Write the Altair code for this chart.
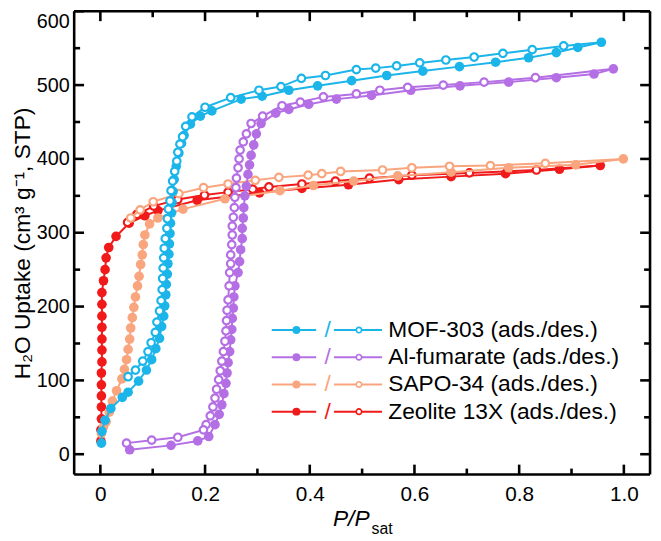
import altair as alt
import pandas as pd

FONT = "Liberation Sans"

# ---------------- data ----------------
legend_names = ["MOF-303", "Al-fumarate", "SAPO-34", "Zeolite 13X"]
legend_colors = ["#1BB5EA", "#B56FE5", "#F9A57E", "#F01A1A"]
legend_labels = ["MOF-303 (ads./des.)", "Al-fumarate (ads./des.)",
                 "SAPO-34 (ads./des.)", "Zeolite 13X (ads./des.)"]

mof_ads_p = [0.002, 0.003, 0.009, 0.020, 0.042, 0.053, 0.073, 0.088, 0.098, 0.106,
             0.113, 0.117, 0.121, 0.123, 0.125, 0.126, 0.128, 0.129, 0.131, 0.132,
             0.133, 0.134, 0.136, 0.137, 0.139, 0.141, 0.145, 0.150, 0.155, 0.160,
             0.172, 0.191, 0.213, 0.269, 0.309, 0.360, 0.415, 0.480, 0.547, 0.616,
             0.686, 0.755, 0.818, 0.871, 0.912, 0.957]
mof_ads_u = [15, 31, 46, 62, 77, 84, 99, 114, 128, 143,
             157, 173, 187, 201, 216, 230, 244, 258, 271, 285,
             299, 313, 327, 341, 356, 372, 390, 408, 421, 432,
             447, 458, 465, 481, 485, 493, 499, 506, 513, 519,
             525, 531, 537, 544, 551, 558]
mof_des_p = [0.957, 0.885, 0.825, 0.769, 0.714, 0.660, 0.610, 0.566, 0.526, 0.489,
             0.430, 0.384, 0.345, 0.303, 0.249, 0.200, 0.175, 0.163, 0.157, 0.152,
             0.148, 0.146, 0.142, 0.138, 0.135, 0.133, 0.130, 0.128, 0.127, 0.124,
             0.122, 0.121, 0.120, 0.119, 0.118, 0.116, 0.113, 0.108, 0.105, 0.097,
             0.091, 0.081, 0.067, 0.053]
mof_des_u = [558, 553, 548, 543, 538, 534, 530, 526, 523, 521,
             513, 509, 498, 493, 483, 470, 457, 444, 430, 420,
             409, 397, 383, 370, 357, 343, 332, 319, 306, 292,
             279, 266, 252, 238, 223, 208, 194, 179, 165, 151,
             139, 126, 114, 105]

alf_ads_p = [0.056, 0.135, 0.186, 0.207, 0.219, 0.227, 0.232, 0.236, 0.240, 0.242,
             0.244, 0.247, 0.249, 0.251, 0.252, 0.254, 0.255, 0.257, 0.263, 0.266,
             0.268, 0.271, 0.271, 0.273, 0.274, 0.276, 0.279, 0.282, 0.285, 0.288,
             0.293, 0.298, 0.307, 0.335, 0.360, 0.398, 0.451, 0.518, 0.593, 0.687,
             0.780, 0.871, 0.943, 0.980]
alf_ads_u = [6, 12, 18, 24, 40, 54, 67, 82, 96, 110,
             124, 139, 155, 169, 184, 198, 213, 228, 246, 261,
             277, 292, 306, 320, 334, 350, 363, 379, 392, 405,
             419, 434, 448, 462, 467, 474, 481, 486, 493, 499,
             504, 510, 515, 522]
alf_des_p = [0.980, 0.831, 0.733, 0.655, 0.587, 0.534, 0.489, 0.426, 0.382, 0.347,
             0.310, 0.288, 0.279, 0.273, 0.267, 0.265, 0.263, 0.260, 0.259, 0.257,
             0.256, 0.254, 0.252, 0.252, 0.251, 0.249, 0.249, 0.247, 0.246, 0.244,
             0.242, 0.241, 0.240, 0.238, 0.235, 0.232, 0.229, 0.226, 0.222, 0.219,
             0.215, 0.210, 0.202, 0.197, 0.148, 0.098, 0.050]
alf_des_u = [522, 510, 504, 500, 497, 493, 488, 484, 477, 472,
             458, 448, 434, 423, 412, 400, 388, 374, 361, 348,
             334, 321, 309, 297, 284, 270, 258, 246, 228, 209,
             195, 181, 167, 153, 139, 126, 113, 101, 88, 76,
             64, 52, 40, 33, 23, 19, 15]

sapo_ads_p = [0.002, 0.006, 0.011, 0.017, 0.023, 0.031, 0.041, 0.046, 0.050, 0.053,
              0.056, 0.058, 0.061, 0.064, 0.067, 0.071, 0.074, 0.077, 0.080, 0.082,
              0.085, 0.094, 0.110, 0.158, 0.238, 0.343, 0.407, 0.484, 0.568, 0.670,
              0.780, 0.908, 0.999]
sapo_ads_u = [28, 37, 44, 57, 72, 86, 102, 115, 128, 142,
              156, 171, 185, 199, 213, 228, 241, 257, 270, 284,
              297, 312, 320, 332, 346, 357, 364, 370, 377, 382,
              388, 392, 400]
sapo_des_p = [0.999, 0.850, 0.745, 0.667, 0.595, 0.539, 0.459, 0.423, 0.397, 0.341,
              0.296, 0.244, 0.197, 0.150, 0.101, 0.076, 0.058]
sapo_des_u = [400, 394, 391, 390, 388, 385, 383, 380, 378, 375,
              371, 366, 361, 353, 342, 331, 320]

zeo_ads_p = [0.001, 0.001, 0.002, 0.002, 0.002, 0.002, 0.002, 0.003, 0.003, 0.003,
             0.003, 0.003, 0.003, 0.003, 0.006, 0.009, 0.011, 0.016, 0.030, 0.055,
             0.085, 0.110, 0.185, 0.304, 0.385, 0.474, 0.570, 0.670, 0.774, 0.877,
             0.955]
zeo_ads_u = [18, 33, 48, 64, 79, 94, 110, 125, 141, 156,
             172, 187, 203, 219, 235, 250, 266, 280, 295, 313,
             323, 330, 344, 354, 360, 365, 372, 376, 380, 386,
             391]
zeo_des_p = [0.955, 0.833, 0.705, 0.595, 0.514, 0.449, 0.385, 0.322, 0.291, 0.244,
             0.199, 0.148, 0.102, 0.070, 0.052]
zeo_des_u = [391, 385, 381, 378, 374, 370, 366, 362, 359, 355,
             351, 345, 336, 325, 314]

x_major = [0, 0.2, 0.4, 0.6, 0.8, 1.0]
x_minor = [0.1, 0.3, 0.5, 0.7, 0.9]
y_major = [0, 100, 200, 300, 400, 500, 600]
y_minor = [50, 150, 250, 350, 450, 550]

# ---------------- chart ----------------
W, H = 583, 469
xs = alt.Scale(domain=[-0.05, 1.05], nice=False, zero=False)
ys = alt.Scale(domain=[-27.5, 600], nice=False, zero=False)
color_of = dict(zip(legend_names, legend_colors))

series = [
    ("Zeolite 13X", zeo_ads_p, zeo_ads_u, zeo_des_p, zeo_des_u),
    ("SAPO-34", sapo_ads_p, sapo_ads_u, sapo_des_p, sapo_des_u),
    ("Al-fumarate", alf_ads_p, alf_ads_u, alf_des_p, alf_des_u),
    ("MOF-303", mof_ads_p, mof_ads_u, mof_des_p, mof_des_u),
]

x_axis = alt.Axis(values=x_major, labelExpr="datum.value == 0 ? '0' : format(datum.value, '.1f')",
                  ticks=False, domain=False, grid=False, labelFont=FONT, labelFontSize=21,
                  labelColor="black", labelPadding=9, title=None)
y_axis = alt.Axis(values=y_major, format="d", ticks=False, domain=False, grid=False,
                  labelFont=FONT, labelFontSize=20, labelColor="black", labelPadding=5,
                  labelFlush=True,
                  title="H₂O Uptake (cm³ g⁻¹, STP)", titleFont=FONT, titleFontSize=23,
                  titleFontWeight="normal", titleColor="black",
                  titleX=-52, titleY=H / 2, titleAngle=270, titleAlign="center",
                  titleBaseline="middle")


def X():
    return alt.X("P:Q", scale=xs, axis=x_axis)


def Y():
    return alt.Y("U:Q", scale=ys, axis=y_axis)


layers = []
for name, ap, au, dp, du in series:
    c = color_of[name]
    ads = pd.DataFrame({"P": ap, "U": au, "i": list(range(len(ap)))})
    des = pd.DataFrame({"P": dp, "U": du, "i": list(range(len(dp)))})
    la = alt.Chart(ads).mark_line(color=c, strokeWidth=2).encode(x=X(), y=Y(), order="i:Q")
    ld = alt.Chart(des).mark_line(color=c, strokeWidth=2).encode(x=X(), y=Y(), order="i:Q")
    pa = alt.Chart(ads).mark_point(shape="circle", filled=True, color=c, size=95, opacity=1).encode(
        x=X(), y=Y())
    pdes = alt.Chart(des.iloc[1:]).mark_point(shape="circle", filled=True, fill="white", stroke=c,
                                             strokeWidth=2.2, size=58, opacity=1).encode(x=X(), y=Y())
    layers += [la, ld, pa, pdes]

# frame
TW = 2.6
one = pd.DataFrame({"k": [0]})
layers += [
    alt.Chart(one).mark_rule(color="black", strokeWidth=TW).encode(
        x=alt.value(0), x2=alt.value(W), y=alt.value(0)),
    alt.Chart(one).mark_rule(color="black", strokeWidth=TW).encode(
        x=alt.value(0), x2=alt.value(W), y=alt.value(H)),
    alt.Chart(one).mark_rule(color="black", strokeWidth=TW).encode(
        y=alt.value(0), y2=alt.value(H), x=alt.value(0)),
    alt.Chart(one).mark_rule(color="black", strokeWidth=TW).encode(
        y=alt.value(0), y2=alt.value(H), x=alt.value(W)),
]


# inward ticks on all four sides
def xticks(vals, L):
    df = pd.DataFrame({"P": vals})
    b = alt.Chart(df).mark_rule(color="black", strokeWidth=TW).encode(
        x=X(), y=alt.value(H), y2=alt.value(H - L))
    t = alt.Chart(df).mark_rule(color="black", strokeWidth=TW).encode(
        x=X(), y=alt.value(0), y2=alt.value(L))
    return [b, t]


def yticks(vals, L):
    df = pd.DataFrame({"U": vals})
    lft = alt.Chart(df).mark_rule(color="black", strokeWidth=TW).encode(
        y=Y(), x=alt.value(0), x2=alt.value(L))
    rgt = alt.Chart(df).mark_rule(color="black", strokeWidth=TW).encode(
        y=Y(), x=alt.value(W), x2=alt.value(W - L))
    return [lft, rgt]


layers += xticks(x_major, 10) + xticks(x_minor, 6) + yticks(y_major, 10) + yticks(y_minor, 6)

# legend (drawn, one row per material)
ROW0, ROWSTEP = 322.7, 27.55
for k, (name, label) in enumerate(zip(legend_names, legend_labels)):
    c = color_of[name]
    yk = ROW0 + k * ROWSTEP
    row = pd.DataFrame({"name": [name], "label": [label], "slash": ["/"]})
    layers += [
        alt.Chart(row).mark_rule(color=c, strokeWidth=2).encode(
            x=alt.value(200), x2=alt.value(245), y=alt.value(yk)),
        alt.Chart(row).mark_point(shape="circle", filled=True, color=c, size=64, opacity=1).encode(
            x=alt.value(225), y=alt.value(yk)),
        alt.Chart(row).mark_text(font=FONT, fontSize=23, color=c, baseline="middle").encode(
            x=alt.value(256.7), y=alt.value(yk), text="slash:N"),
        alt.Chart(row).mark_rule(color=c, strokeWidth=2).encode(
            x=alt.value(263), x2=alt.value(311.7), y=alt.value(yk)),
        alt.Chart(row).mark_point(shape="circle", filled=True, fill="white", stroke=c, size=30,
                                  strokeWidth=1.7, opacity=1).encode(x=alt.value(288.3), y=alt.value(yk)),
        alt.Chart(row).mark_text(align="left", baseline="middle", font=FONT, fontSize=23,
                                 color="black").encode(x=alt.value(318), y=alt.value(yk), text="label:N"),
    ]

# x-axis title P/P_sat
t1 = pd.DataFrame({"t": ["P/P"]})
t2 = pd.DataFrame({"t": ["sat"]})
layers += [
    alt.Chart(t1).mark_text(align="left", baseline="alphabetic", font=FONT, fontSize=23,
                            fontStyle="italic", color="black").encode(
        x=alt.value(262), y=alt.value(521), text="t:N"),
    alt.Chart(t2).mark_text(align="left", baseline="alphabetic", font=FONT, fontSize=16,
                            color="black").encode(
        x=alt.value(301), y=alt.value(529), text="t:N"),
]

chart = alt.layer(*layers).properties(
    width=W, height=H,
    autosize=alt.AutoSizeParams(type="none"),
    padding={"left": 67, "top": 0, "right": 3, "bottom": 64},
    background="white",
).configure_view(stroke=None)

chart.save("out.html", embed_options={"renderer": "svg", "actions": False})
